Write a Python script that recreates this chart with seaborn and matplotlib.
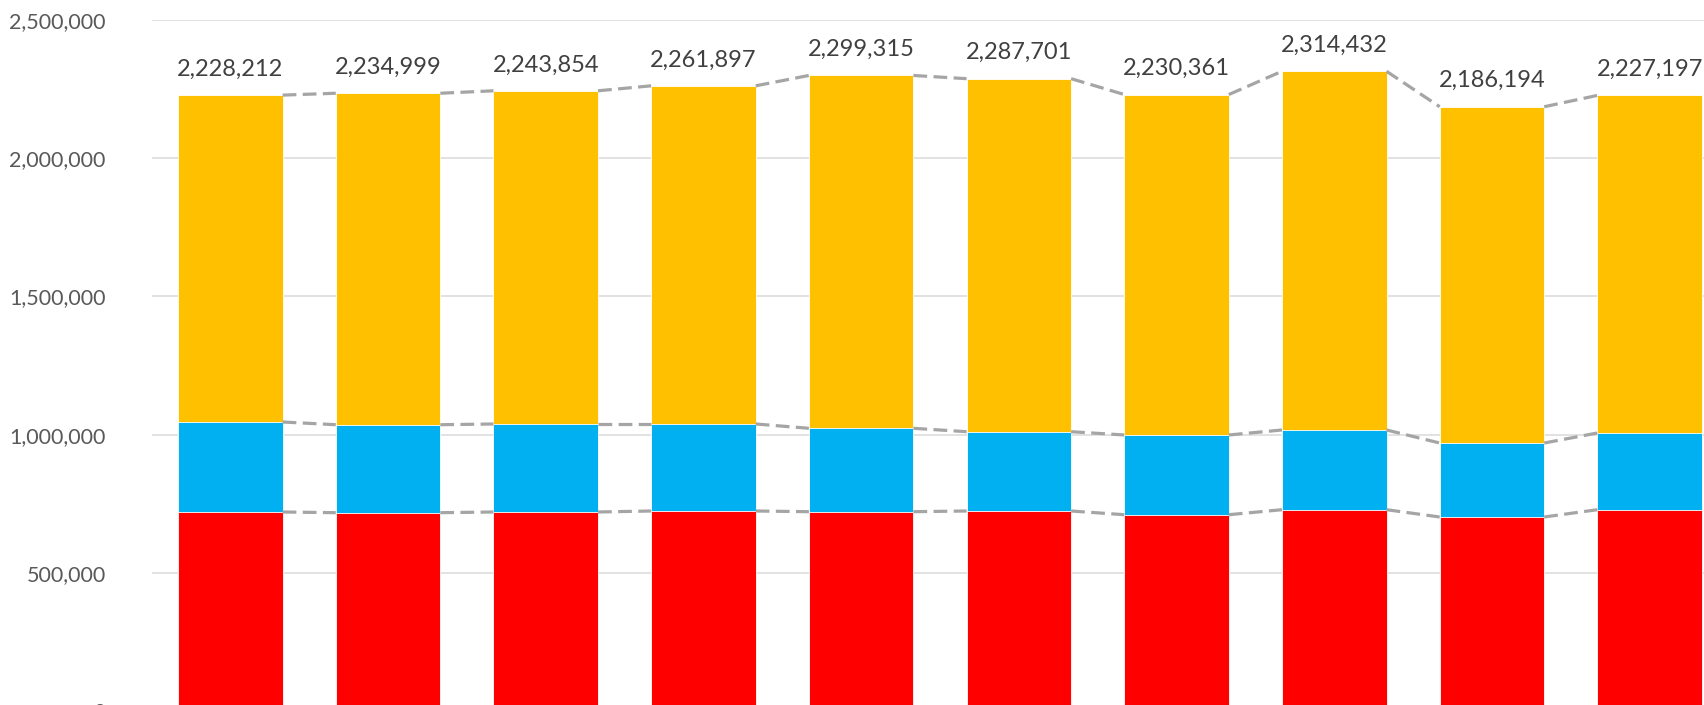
import matplotlib
matplotlib.use("Agg")
import matplotlib.pyplot as plt
import seaborn as sns
import numpy as np
import pandas as pd
from matplotlib.ticker import FuncFormatter

categories = ["1", "2", "3", "4", "5", "6", "7", "8", "9", "10"]
red_vals = [720000, 717500, 720000, 723600, 721100, 723600, 710200, 728300, 701900, 728300]
blue_vals = [325600, 318300, 318400, 314800, 301700, 286900, 288400, 288400, 267700, 277500]
totals = [2228212, 2234999, 2243854, 2261897, 2299315, 2287701, 2230361, 2314432, 2186194, 2227197]

red = np.array(red_vals, dtype=float)
blue_top = red + np.array(blue_vals, dtype=float)
tot = np.array(totals, dtype=float)

df = pd.DataFrame({"cat": categories, "red": red, "blue_top": blue_top, "total": tot})

sns.set_theme(style="white")
plt.rcParams["font.family"] = ["Lato", "DejaVu Sans"]

W, H = 1704, 705
fig = plt.figure(figsize=(W / 100, H / 100), dpi=100)
left = 151.5 / W
width = 1577 / W
bottom = (H - 711) / H
top = 1 - 20 / H
ax = fig.add_axes([left, bottom, width, top - bottom])

bw = 0.663
sns.barplot(data=df, x="cat", y="total", color="#FFC000", saturation=1, width=bw, ax=ax,
            edgecolor="white", linewidth=0.6, zorder=3)
sns.barplot(data=df, x="cat", y="blue_top", color="#00B0F0", saturation=1, width=bw, ax=ax,
            edgecolor="white", linewidth=0.6, zorder=3)
sns.barplot(data=df, x="cat", y="red", color="#FF0000", saturation=1, width=bw, ax=ax,
            edgecolor="white", linewidth=0.6, zorder=3)

# series lines
for series in (tot, blue_top, red):
    for i in range(len(categories) - 1):
        ax.plot([i + bw / 2, i + 1 - bw / 2], [series[i], series[i + 1]],
                color="#A5A5A5", linewidth=2.3, linestyle=(0, (4.3, 2.0)),
                solid_capstyle="butt", dash_capstyle="butt", zorder=4)

# total labels
for i, t in enumerate(totals):
    ax.annotate(f"{t:,}", xy=(i, t), xytext=(0, 14), textcoords="offset points",
                ha="center", va="baseline", fontsize=17, color="#404040")

ax.set_xlim(-0.5, len(categories) - 0.5)
ax.set_ylim(0, 2500000)
ax.set_yticks(np.arange(0, 2500001, 500000))
ax.yaxis.set_major_formatter(FuncFormatter(lambda v, p: f"{int(v):,}"))
ax.tick_params(axis="y", labelsize=15.5, labelcolor="#595959", length=0, pad=33)
ax.set_xticks([])
ax.set_xlabel("")
ax.set_ylabel("")
ax.grid(axis="y", color="#DDDDDD", linewidth=1.2, zorder=0)
ax.set_axisbelow(True)
for s in ax.spines.values():
    s.set_visible(False)

fig.savefig("out.png", dpi=100)
